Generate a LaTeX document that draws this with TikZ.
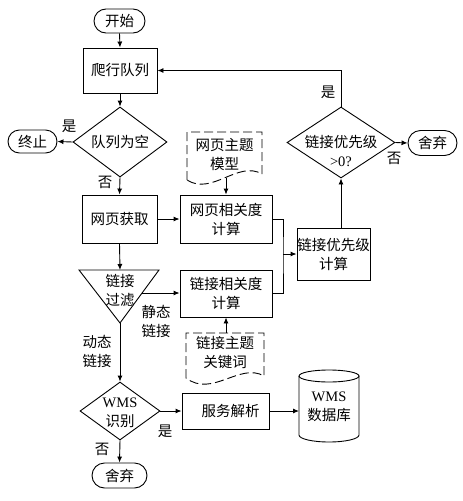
\documentclass[tikz,border=0pt]{standalone}
\usepackage{fontspec}
\setmainfont{Liberation Serif}
\newfontfamily\cjk{Noto Sans CJK SC}
\usetikzlibrary{shapes.geometric,shapes.misc,arrows.meta}
\newcommand\fs{\fontsize{14.5}{19}\selectfont}
\tikzset{
  base/.style={draw, line width=0.9pt, font=\fs\cjk, align=center, inner sep=0pt},
  box/.style={base, rectangle},
  term/.style={base, rounded rectangle},
  diam/.style={draw, line width=0.9pt, diamond, inner sep=0pt},
  arr/.style={-{Latex[length=6pt,width=5pt]}, line width=0.9pt},
  ln/.style={line width=0.9pt},
  lbl/.style={font=\fs\cjk, align=center, inner sep=0pt},
  docline/.style={line width=0.9pt, dash pattern=on 9pt off 4pt}
}
\begin{document}
\begin{tikzpicture}[x=1pt,y=-1pt]
\useasboundingbox (0,0) rectangle (463,501);
% terminals
\node[term, minimum width=51pt, minimum height=24pt] (start) at (119.5,21) {开始};
\node[term, minimum width=49pt, minimum height=23pt] (stop) at (32.5,141.5) {终止};
\node[term, minimum width=49pt, minimum height=25pt] (drop1) at (432.5,143) {舍弃};
\node[term, minimum width=55pt, minimum height=25pt] (drop2) at (119.5,475.5) {舍弃};
% boxes
\node[box, minimum width=74pt, minimum height=45pt] (crawl) at (120,70.5) {爬行队列};
\node[box, minimum width=75pt, minimum height=48pt] (fetch) at (119.5,219) {网页获取};
\node[box, minimum width=92pt, minimum height=48pt] (pagerel) at (226,219) {网页相关度\\计算};
\node[box, minimum width=92pt, minimum height=47pt] (linkrel) at (226,293.5) {链接相关度\\计算};
\node[box, minimum width=73pt, minimum height=52pt] (prio) at (333.5,254) {链接优先级\\计算};
\node[box, minimum width=87pt, minimum height=36pt] (parse) at (225.5,411) {\hspace*{10pt}服务解析};
% diamonds
\node[diam, minimum width=94pt, minimum height=70pt] (d1) at (120,142) {};
\node[lbl] (d1t) at (d1) {队列为空};
\node[diam, minimum width=108pt, minimum height=71pt] (d2) at (341,142.5) {};
\node[lbl] (d2t) at (341,151) {链接优先级\\{\rmfamily >0?}};
\node[diam, minimum width=80pt, minimum height=58pt] (wms) at (120,411) {};
\node[lbl] (wmst) at (120,413) {{\rmfamily WMS}\\识别};
% filter triangle
\coordinate (ftl) at (79,270);
\coordinate (ftr) at (159,270);
\coordinate (fbot) at (120,323);
\coordinate (ftop) at (120,270);
\coordinate (fright) at (142,293);
\draw[ln] (ftl) -- (ftr) -- (fbot) -- cycle;
\node[lbl] (filter) at (120,290.5) {链接\\过滤};
% documents
\draw[docline] (187,180) -- (187,132) -- (262,132) -- (262,174) .. controls (238,160) and (212,196) .. (187,180);
\node[lbl] (doc1) at (224.5,155) {网页主题\\模型};
\coordinate (doc1bot) at (226,178);
\draw[docline] (186,378) -- (186,333) -- (264,333) -- (264,376) .. controls (240,362) and (212,398) .. (186,378);
\node[lbl] (doc2) at (225,352.5) {链接主题\\关键词};
\coordinate (doc2top) at (226,333);
% database cylinder
\draw[ln] (299,376) -- (299,435) arc[start angle=180, end angle=360, x radius=30pt, y radius=7pt] -- (359,376);
\draw[ln] (329,376) ellipse[x radius=30pt, y radius=6pt];
\node[lbl] (db) at (329,407) {{\rmfamily WMS}\\数据库};
\coordinate (dbL) at (299,411);
% connectors
\draw[arr] (start.south) -- (crawl.north);
\draw[arr] (crawl.south) -- (d1.north);
\draw[arr] (d1.west) -- (stop.east);
\draw[arr] (d1.south) -- (fetch.north);
\draw[arr] (fetch.east) -- (pagerel.west);
\draw[arr] (fetch.south) -- (ftop);
\draw[arr] (fright) -- (linkrel.west |- fright);
\draw[arr] (fbot) -- (wms.north);
\draw[arr] (wms.east) -- (parse.west);
\draw[arr] (parse.east) -- (dbL);
\draw[arr] (wms.south) -- (drop2.north);
\draw[arr] (doc1bot) -- (pagerel.north);
\draw[arr] (doc2top) -- (linkrel.south);
\coordinate (m) at (283,254);
\draw[ln] (pagerel.east) -| (m) |- (linkrel.east);
\draw[arr] (m) -- (prio.west);
\draw[arr] (d2.south |- prio.north) -- (d2.south);
\draw[arr] (d2.north) |- (crawl.east);
\draw[arr] (d2.east) -- (drop1.west);
% labels
\node[lbl] (l1) at (69,126) {是};
\node[lbl] (l2) at (105,182) {否};
\node[lbl] (l3) at (328,92) {是};
\node[lbl] (l4) at (394,158) {否};
\node[lbl] (l5) at (156,321) {静态\\链接};
\node[lbl] (l6) at (97,351) {动态\\链接};
\node[lbl] (l7) at (165,431) {是};
\node[lbl] (l8) at (102,449) {否};
\end{tikzpicture}
\end{document}
